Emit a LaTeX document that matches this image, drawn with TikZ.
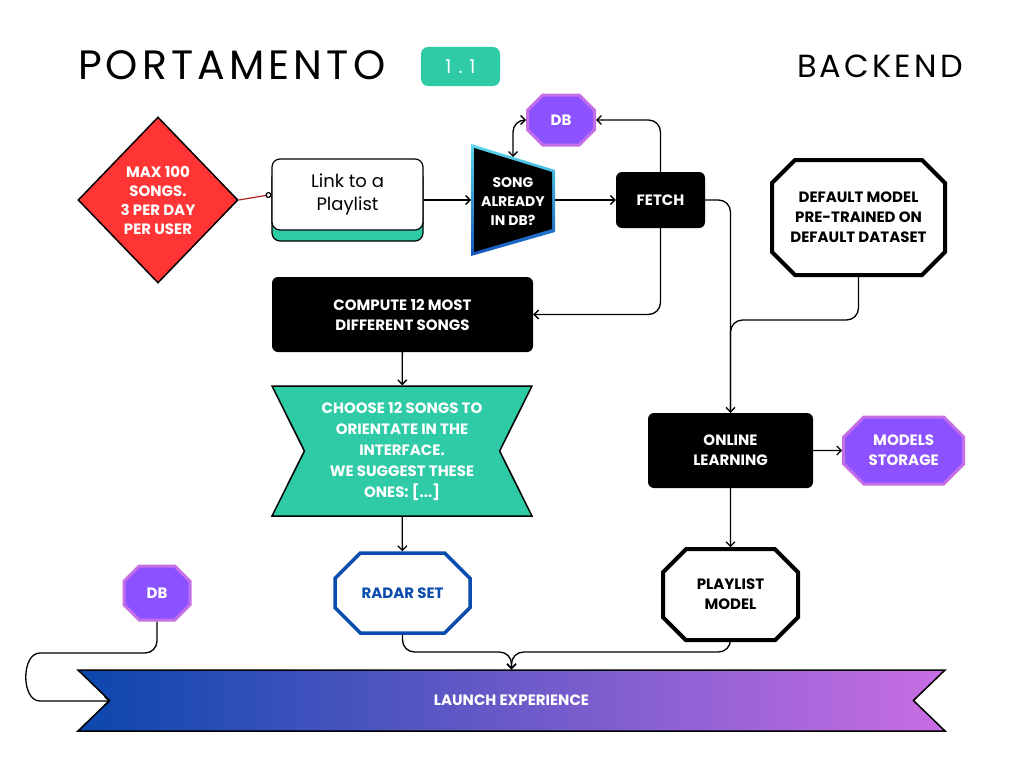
\documentclass[tikz,border=0pt]{standalone}
\usepackage{fontspec}
\setmainfont{Poppins}
\newfontfamily\titlefont[LetterSpace=10]{Poppins}
\usetikzlibrary{positioning, arrows.meta, shapes.geometric, shapes.misc, shapes.symbols, shadows}

\definecolor{pmteal}{HTML}{2FCAA6}
\definecolor{pmred}{HTML}{FF3434}
\definecolor{pmdarkred}{HTML}{B02020}
\definecolor{pmpurple}{HTML}{8C52FF}
\definecolor{pmlilac}{HTML}{C46FE6}
\definecolor{pmblue}{HTML}{0B4CAE}
\definecolor{pmcyan}{HTML}{5AD8EC}
\definecolor{pmdeep}{HTML}{1256BE}
\definecolor{pmbannerL}{HTML}{0B47AD}
\definecolor{pmbannerR}{HTML}{C96DE4}

\tikzset{
  lbl/.style={font=\bfseries\fontsize{15}{20}\selectfont, text=white, align=center, inner sep=0pt},
  blackbox/.style={lbl, fill=black, rounded corners=6pt},
  octa/.style={lbl, chamfered rectangle, chamfered rectangle sep=#1},
  dbbox/.style={octa=10pt, fill=pmpurple, draw=pmlilac, line width=3pt},
  whiteocta/.style={octa=11.5pt, fill=white, draw=black, line width=4pt, text=black},
  conn/.style={line width=1.3pt, -{Straight Barb[length=4.5pt, width=9pt]}, rounded corners=12pt},
  plain/.style={line width=1.3pt, rounded corners=12pt},
}

\begin{document}
\begin{tikzpicture}[x=1pt, y=-1pt]
  \useasboundingbox (0,0) rectangle (1024,768);
  \fill[white] (0,0) rectangle (1024,768);

  % header
  \node[anchor=west, inner sep=0pt, font=\titlefont\fontsize{41}{41}\selectfont] (title) at (78,65) {PORTAMENTO};
  \node[fill=pmteal, rounded corners=7pt, minimum width=79pt, minimum height=39pt, text=white,
        font=\fontsize{19}{20}\selectfont] (version) at (460.5,66.5) {1\hspace{7pt}.\hspace{7pt}1};
  \node[anchor=east, inner sep=0pt, font=\titlefont\fontsize{32}{32}\selectfont] (side) at (963,66) {BACKEND};

  % input
  \node[diamond, draw=black, line width=1.5pt, fill=pmred, minimum width=160pt, minimum height=166pt, inner sep=0pt,
        label={[lbl, font=\bfseries\fontsize{15}{19}\selectfont]center:MAX 100\\SONGS.\\3 PER DAY\\PER USER}]
    (limit) at (158,200) {};
  \node[draw=black, line width=1.2pt, fill=white, rounded corners=8pt, minimum width=151pt, minimum height=71pt,
        align=center, font=\fontsize{18}{23}\selectfont,
        drop shadow={shadow xshift=0pt, shadow yshift=-11pt, fill=pmteal, draw=black, line width=1.2pt, opacity=1}]
    (link) at (347.5,194.5) {Link to a\\Playlist};

  % check
  \shade[top color=pmcyan, bottom color=pmdeep] (471,144) -- (555,170) -- (555,232) -- (471,256) -- cycle;
  \fill[black] (474,148) -- (552,172) -- (552,229) -- (474,252) -- cycle;
  \node[lbl, font=\bfseries\fontsize{14}{19}\selectfont] (check) at (513,202) {SONG\\ALREADY\\IN DB?};
  \coordinate (check-w) at (471,200);
  \coordinate (check-e) at (555,200);
  \coordinate (check-n) at (513,157);

  \node[dbbox, minimum width=67pt, minimum height=50pt] (db1) at (561,120) {DB};
  \node[blackbox, minimum width=89pt, minimum height=56pt] (fetch) at (660.5,200) {FETCH};
  \node[whiteocta, minimum width=173pt, minimum height=115pt] (default) at (858.5,217.5)
    {DEFAULT MODEL\\PRE-TRAINED ON\\DEFAULT DATASET};

  % left column
  \node[blackbox, minimum width=261pt, minimum height=75pt] (compute) at (402.5,314.5)
    {COMPUTE 12 MOST\\DIFFERENT SONGS};
  \node[lbl, signal, signal to=nowhere, signal from=west and east, signal pointer angle=127,
        fill=pmteal, draw=black, line width=1.5pt, minimum width=260pt, minimum height=130pt,
        font=\bfseries\fontsize{15}{21}\selectfont] (choose) at (402,451)
    {CHOOSE 12 SONGS TO\\ORIENTATE IN THE\\INTERFACE.\\WE SUGGEST THESE\\ONES: [...]};
  \node[octa=20pt, fill=white, draw=pmblue, line width=3.5pt, text=pmblue,
        minimum width=135pt, minimum height=80pt] (radar) at (402.5,593) {RADAR SET};

  % right column
  \node[blackbox, minimum width=165pt, minimum height=75pt] (online) at (730.5,450.5) {ONLINE\\LEARNING};
  \node[dbbox, minimum width=120pt, minimum height=67pt, right=29pt of online] (storage) {MODELS\\STORAGE};
  \node[whiteocta, minimum width=135pt, minimum height=91pt, below=59pt of online] (pmodel) {PLAYLIST\\MODEL};

  % bottom
  \node[dbbox, minimum width=66pt, minimum height=54pt] (db2) at (157,593) {DB};
  \node[lbl, signal, signal to=nowhere, signal from=west and east, signal pointer angle=88,
        left color=pmbannerL, right color=pmbannerR, draw=black, line width=1.5pt,
        minimum width=867pt, minimum height=61pt] (launch) at (511.5,700.5) {LAUNCH EXPERIENCE};
  \coordinate (launch-w) at (110,701);

  % connectors
  \draw[pmdarkred, line width=1.2pt, -{Circle[open, length=6pt, black]}] (limit.east) -- (link.west);
  \draw[conn] (link.east |- check-w) -- (check-w);
  \draw[conn, {Straight Barb[length=4.5pt, width=9pt]}-{Straight Barb[length=4.5pt, width=9pt]}] (check-n) |- (db1.west);
  \draw[conn] (check-e) -- (fetch.west);
  \draw[conn] (fetch.north) |- (db1.east);
  \draw[conn] (fetch.south) |- (compute.east);
  \draw[conn] (fetch.east) -| (online.north);
  \coordinate (merge) at (online.north |- {(0,320)});
  \draw[plain] (default.south) |- (merge) -- (online.north);
  \draw[conn] (compute) -- (choose);
  \draw[conn] (choose) -- (radar);
  \draw[conn] (online) -- (storage);
  \draw[conn] (online) -- (pmodel);
  \coordinate (join) at (launch.north |- {(0,652)});
  \draw[conn] (radar.south) |- (join) -- (launch.north);
  \draw[conn] (pmodel.south) |- (join) -- (launch.north);
  \draw[conn] (db2.south) |- (52,653) .. controls +(-31,0) and +(-31,0) .. (52,701) -- (launch-w);
\end{tikzpicture}
\end{document}
